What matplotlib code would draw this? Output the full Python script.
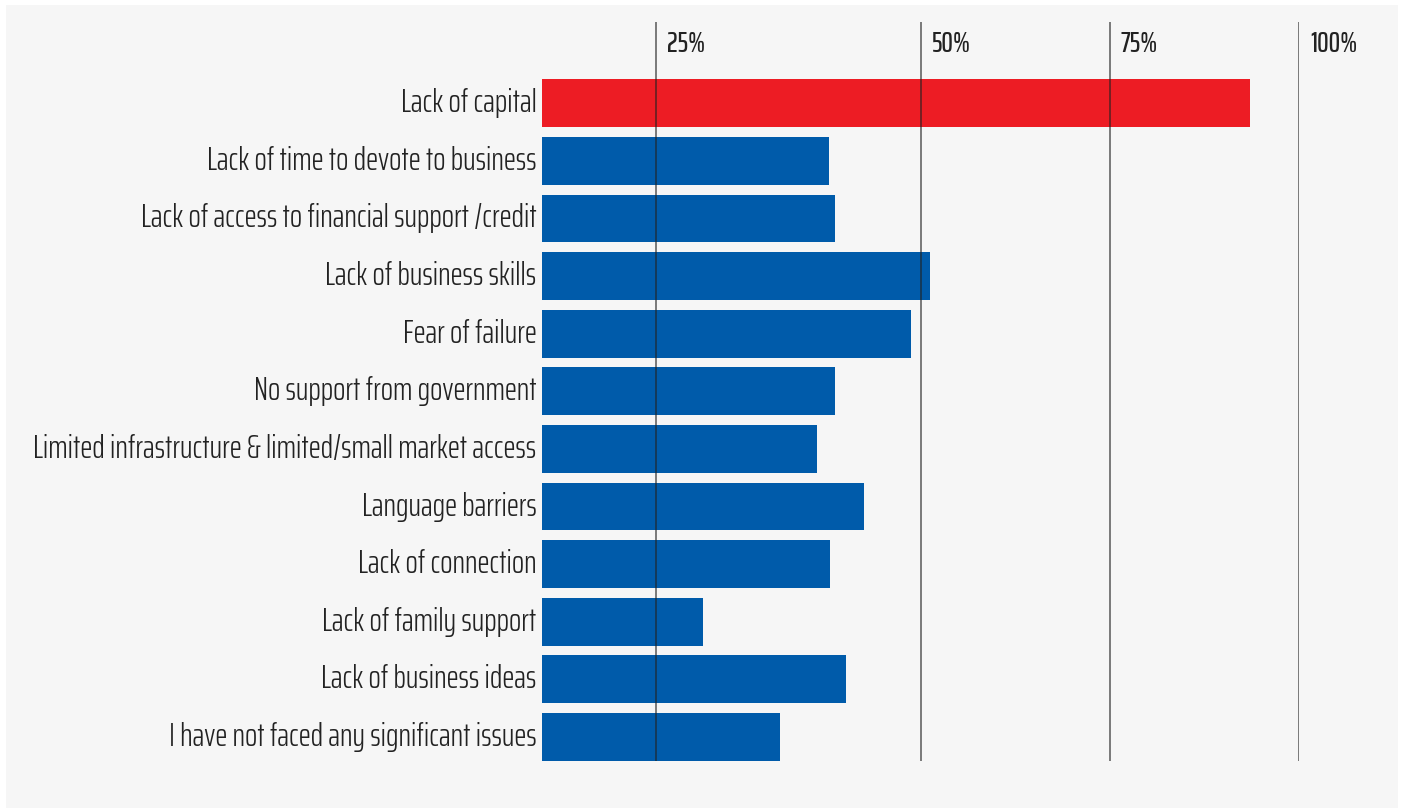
import matplotlib
matplotlib.use("Agg")
import matplotlib.pyplot as plt
from matplotlib.patches import Rectangle

# Survey data (share of respondents, %)
categories = [
    "Lack of capital",
    "Lack of time to devote to business",
    "Lack of access to financial support /credit",
    "Lack of business skills",
    "Fear of failure",
    "No support from government",
    "Limited infrastructure & limited/small market access",
    "Language barriers",
    "Lack of connection",
    "Lack of family support",
    "Lack of business ideas",
    "I have not faced any significant issues",
]
values = [93.5, 37.9, 38.7, 51.3, 48.7, 38.7, 36.3, 42.5, 38.0, 21.3, 40.2, 31.4]
highlight = "Lack of capital"

# gridline positions as drawn in the original, and their labels
grid_pos = [15, 50, 75, 100]
grid_labels = ["25%", "50%", "75%", "100%"]

plt.rcParams["font.family"] = ["Saira ExtraCondensed", "Barlow Condensed", "DejaVu Sans"]

W, H = 1403, 810
fig = plt.figure(figsize=(W / 100, H / 100), dpi=100)
fig.patch.set_facecolor("white")
fig.patches.append(Rectangle((6 / W, 2 / H), 1392 / W, 803 / H,
                             transform=fig.transFigure, facecolor="#f6f6f6",
                             edgecolor="none", zorder=-10))


def fit_size(text, target_px, weight, trial=24):
    # pick a font size so the text spans about target_px
    r = fig.canvas.get_renderer()
    t = fig.text(0, 0, text, fontsize=trial, fontweight=weight)
    w = t.get_window_extent(r).width
    t.remove()
    return trial * target_px / w


label_size = fit_size(max(categories, key=len), 503, 300)
tick_size = fit_size("100%", 47, 500)

ax = fig.add_axes([542 / W, 1 - 761 / H, (1299 - 542) / W, (761 - 22) / H])
ax.set_facecolor("none")

ypos = list(range(len(categories)))
colors = ["#ed1c24" if c == highlight else "#005baa" for c in categories]
ax.barh(ypos, values, height=0.83, color=colors, zorder=2)

ax.set_xlim(0, 100)
ax.set_ylim(len(categories) - 1 + 0.417, -1.41)

for g, lab in zip(grid_pos, grid_labels):
    ax.axvline(g, color="#222222", lw=1.1, alpha=0.75, zorder=3)
    ax.text(g + 1.45, -1.02, lab, ha="left", va="center", fontsize=tick_size,
            fontweight=500, color="#222222", clip_on=False)

ax.set_yticks(ypos)
ax.set_yticklabels(categories, fontsize=label_size, fontweight=300, color="#222222")
for lbl in ax.get_yticklabels():
    lbl.set_va("center")
ax.tick_params(axis="y", length=0, pad=4)
ax.set_xticks([])
for s in ax.spines.values():
    s.set_visible(False)

fig.savefig("out.png", dpi=100)
